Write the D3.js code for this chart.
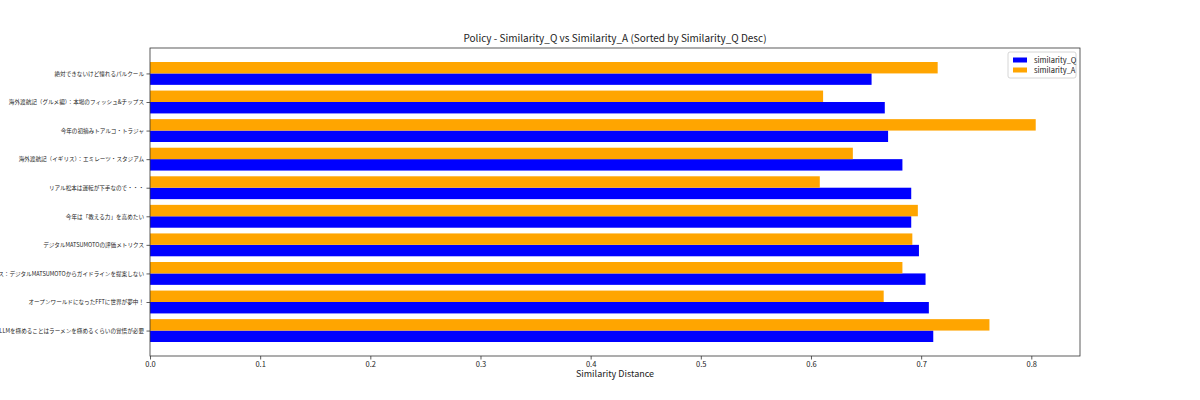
<!DOCTYPE html>
<html>
<head>
<meta charset="utf-8">
<script src="https://cdn.jsdelivr.net/npm/d3@7"></script>
<style>
    body { margin: 0; background: #fff; }
    text { font-family: "Noto Sans CJK JP", "Noto Sans", sans-serif; }
</style>
</head>
<body>
<div class="chart"></div>
<script>
// bottom to top, the way the bars are stacked
const titles = [
    "LLMを極めることはラーメンを極めるくらいの覚悟が必要",
    "オープンワールドになったFFTに世界が夢中！",
    "ス：デジタルMATSUMOTOからガイドラインを提案しない",
    "デジタルMATSUMOTOの評価メトリクス",
    "今年は「教える力」を高めたい",
    "リアル松本は運転が下手なので・・・",
    "海外渡航記（イギリス）：エミレーツ・スタジアム",
    "今年の初摘みトアルコ・トラジャ",
    "海外渡航記（グルメ編）：本場のフィッシュ&チップス",
    "絶対できないけど憧れるパルクール"
];
const similarityQ = [0.711, 0.707, 0.704, 0.698, 0.691, 0.691, 0.683, 0.670, 0.667, 0.655];
const similarityA = [0.762, 0.666, 0.683, 0.692, 0.697, 0.608, 0.638, 0.804, 0.611, 0.715];
const xTicks = [0, 0.1, 0.2, 0.3, 0.4, 0.5, 0.6, 0.7, 0.8];
const seriesNames = ["similarity_Q", "similarity_A"];
const seriesColors = ["#0000ff", "#ffa500"];

const margin = { top: 48, right: 120, bottom: 44, left: 150 },
    width = 1200 - margin.left - margin.right,
    height = 400 - margin.top - margin.bottom;

const svg = d3.select(".chart")
    .append("svg")
    .attr("width", 1200)
    .attr("height", 400);

const group = svg.append("g")
    .attr("transform", `translate(${margin.left},${margin.top})`);

// matplotlib-ish 5% padding
const barH = 0.4;
const xMax = d3.max(similarityA.concat(similarityQ)) * 1.05;
const yPad = (titles.length - 1 + 2 * barH) * 0.05;

const xScale = d3.scaleLinear()
    .domain([0, xMax])
    .range([0, width]);

const yScale = d3.scaleLinear()
    .domain([-barH - yPad, titles.length - 1 + barH + yPad])
    .range([height, 0]);

const rows = titles.map((t, i) => ({ i: i, q: similarityQ[i], a: similarityA[i] }));

// Q below the tick, A above
group.selectAll(".bar-q")
    .data(rows)
    .enter()
    .append("rect")
    .attr("class", "bar-q")
    .attr("x", xScale(0))
    .attr("y", d => yScale(d.i))
    .attr("width", d => xScale(d.q) - xScale(0))
    .attr("height", yScale(0) - yScale(barH))
    .style("fill", seriesColors[0]);

group.selectAll(".bar-a")
    .data(rows)
    .enter()
    .append("rect")
    .attr("class", "bar-a")
    .attr("x", xScale(0))
    .attr("y", d => yScale(d.i + barH))
    .attr("width", d => xScale(d.a) - xScale(0))
    .attr("height", yScale(0) - yScale(barH))
    .style("fill", seriesColors[1]);

// frame
group.append("rect")
    .attr("width", width)
    .attr("height", height)
    .style("fill", "none")
    .style("stroke", "#333")
    .style("stroke-width", 0.8);

const xAxis = d3.axisBottom(xScale)
    .tickValues(xTicks)
    .tickFormat(d3.format(".1f"))
    .tickSize(3.5)
    .tickSizeOuter(0);

const yAxis = d3.axisLeft(yScale)
    .tickValues(d3.range(titles.length))
    .tickFormat(i => titles[i])
    .tickSize(3.5)
    .tickSizeOuter(0);

const xDisplay = group.append("g")
    .attr("class", "axis x-axis")
    .attr("transform", `translate(0,${height})`)
    .call(xAxis);

const yDisplay = group.append("g")
    .attr("class", "axis y-axis")
    .call(yAxis);

[xDisplay, yDisplay].forEach(ax => {
    ax.select(".domain").remove();
    ax.selectAll(".tick line").style("stroke", "#333").style("stroke-width", 0.8);
    ax.selectAll(".tick text").style("fill", "#222");
});
xDisplay.selectAll(".tick text").attr("y", 6).style("font-size", "7.5px");
yDisplay.selectAll(".tick text").attr("x", -6).style("font-size", "5.6px");

// title + axis label
svg.append("text")
    .attr("x", margin.left + width / 2)
    .attr("y", margin.top - 6)
    .attr("text-anchor", "middle")
    .style("font-size", "10px")
    .style("fill", "#222")
    .text("Policy - Similarity_Q vs Similarity_A (Sorted by Similarity_Q Desc)");

svg.append("text")
    .attr("x", margin.left + width / 2)
    .attr("y", margin.top + height + 21)
    .attr("text-anchor", "middle")
    .style("font-size", "9px")
    .style("fill", "#222")
    .text("Similarity Distance");

// legend
const legend = group.append("g")
    .attr("transform", `translate(${width - 72},4)`);

legend.append("rect")
    .attr("width", 68)
    .attr("height", 26)
    .attr("rx", 2)
    .style("fill", "#fff")
    .style("stroke", "#ccc")
    .style("stroke-width", 0.8);

const items = legend.selectAll(".item")
    .data(seriesNames)
    .enter()
    .append("g")
    .attr("class", "item")
    .attr("transform", (d, i) => `translate(5,${5 + i * 10})`);

items.append("rect")
    .attr("width", 14)
    .attr("height", 5)
    .attr("y", 0.5)
    .style("fill", (d, i) => seriesColors[i]);

items.append("text")
    .attr("x", 21)
    .attr("y", 6)
    .style("font-size", "7.5px")
    .style("fill", "#222")
    .text(d => d);
</script>
</body>
</html>
